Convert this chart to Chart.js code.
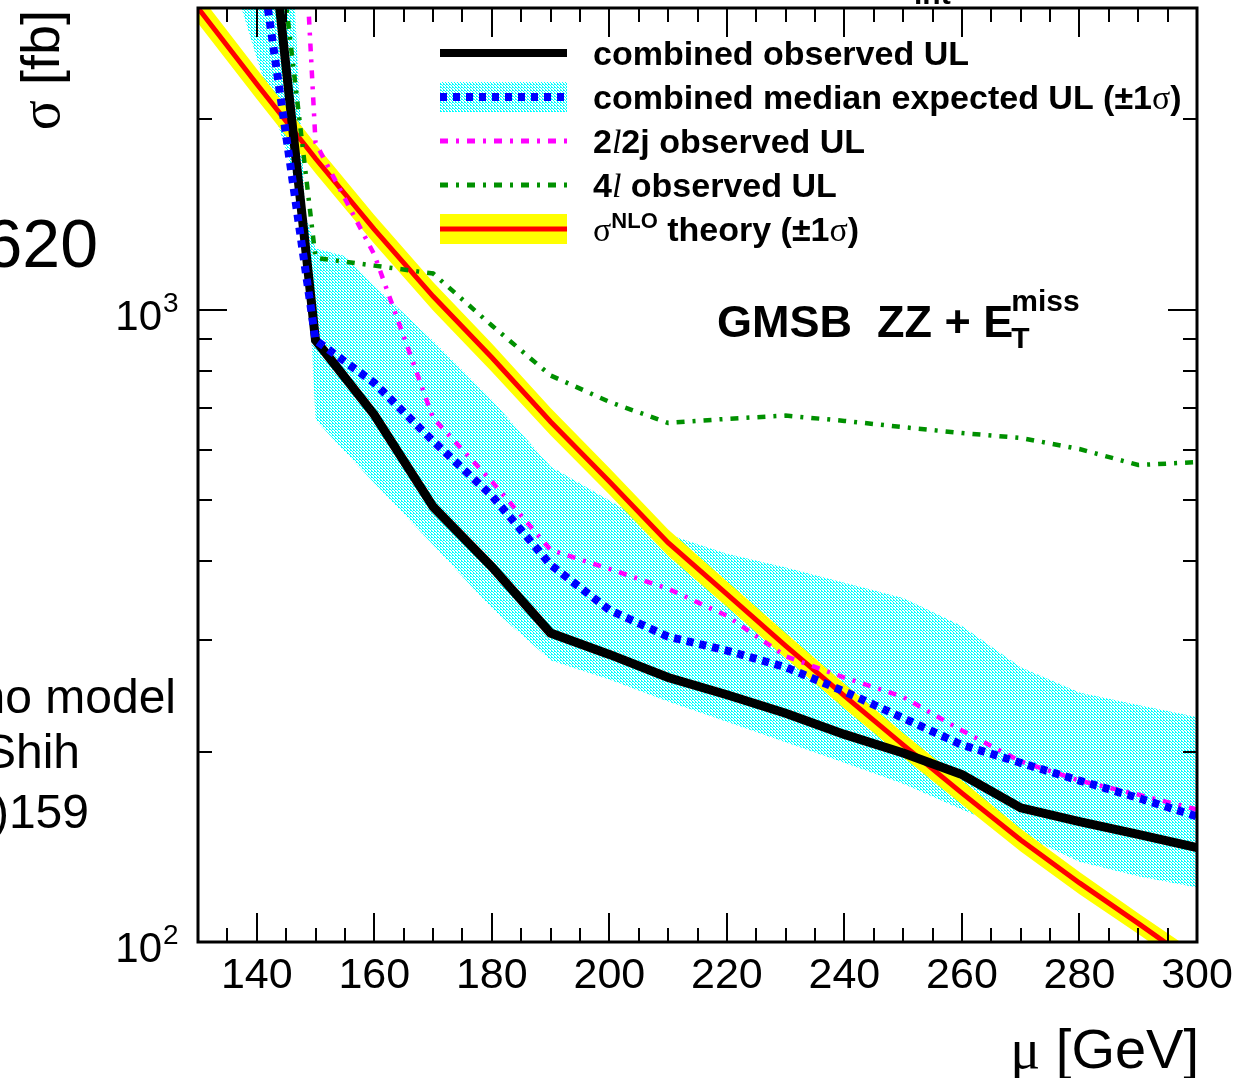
<!DOCTYPE html>
<html>
<head>
<meta charset="utf-8">
<title>GMSB ZZ + MET cross-section limits</title>
<script src="https://cdn.jsdelivr.net/npm/chart.js@4.4.1/dist/chart.umd.min.js"></script>
<style>
  html, body { margin: 0; padding: 0; background: #fff; }
  #wrap { width: 1237px; height: 1078px; position: relative; overflow: hidden; }
</style>
</head>
<body>
<div id="wrap"><canvas id="c" width="1237" height="1078"></canvas></div>
<script>
// values: sigma [fb] vs mu [GeV]
const massLimits = [140, 150, 160, 170, 180, 190, 200, 210, 220, 230, 240, 250, 260, 270, 280, 290, 300];
const observedUL = [6500, 895, 682, 488, 392, 308, 285, 262, 246, 230, 213, 199, 184, 163, 155, 148, 141];
const expectedUL = [3965, 895, 766, 620, 508, 395, 335, 304, 289, 272, 249, 226, 205, 192, 180, 169, 158];
const obs2l2j = [110000, 1837, 1222, 674, 535, 417, 389, 362, 328, 283, 262, 244, 216, 193, 180, 171, 162];
const obs4l = [7600, 1208, 1174, 1141, 944, 787, 715, 662, 672, 680, 667, 652, 638, 627, 602, 568, 574];

const massBand = [135, 140, 145, 150, 155, 160, 170, 180, 190, 200, 210, 220, 230, 240, 250, 260, 270, 280, 290, 300];
const expUp = [3556, 2500, 1786, 1250, 1216, 1091, 893, 720, 565, 499, 441, 411, 391, 370, 350, 316, 272, 248, 237, 227];
const expDown = [30000, 12000, 5700, 670, 596, 532, 425, 337, 279, 260, 240, 223, 207, 192, 178, 162, 148, 134, 127, 122];

const massTheory = [130, 140, 150, 160, 170, 180, 190, 200, 210, 220, 230, 240, 250, 260, 270, 280, 290, 300];
const sigmaNLO = [3000, 2275, 1734, 1340, 1050, 840, 665, 535, 428, 355, 294, 245, 205, 172, 145, 124, 107, 92];
const sigmaUp = [3171, 2402, 1829, 1412, 1106, 884, 699, 562, 449, 372, 308, 256, 214, 180, 151, 129, 111, 96];
const sigmaDown = [2838, 2154, 1644, 1271, 997, 798, 633, 510, 408, 339, 281, 234, 196, 165, 139, 119, 103, 88.5];

const xTickLabels = ['140', '160', '180', '200', '220', '240', '260', '280', '300'];
const yTickLabels = [['10', '2'], ['10', '3']];

const SANS = '"Liberation Sans", Arial, Helvetica, sans-serif';
const SERIF = '"Liberation Serif", "Times New Roman", serif';

const canvas = document.getElementById('c');
const ctx = canvas.getContext('2d');

// ROOT-like dotted fill for the expected band
function makeDots() {
    const t = document.createElement('canvas');
    t.width = 3; t.height = 3;
    const g = t.getContext('2d');
    g.fillStyle = '#ffffff';
    g.fillRect(0, 0, 3, 3);
    g.fillStyle = '#00ffff';
    [[0, 0], [1, 1], [2, 2], [2, 0]].forEach(([x, y]) => g.fillRect(x, y, 1, 1));
    return ctx.createPattern(t, 'repeat');
}
const dots = makeDots();

const pts = (xs, ys) => xs.map((x, i) => ({ x: x, y: ys[i] }));

function rich(c, x, y, parts) {
    parts.forEach(p => {
        c.font = p.f;
        c.fillText(p.t, x, y + (p.dy || 0));
        x += c.measureText(p.t).width;
    });
    return x;
}
function richWidth(c, parts) {
    let w = 0;
    parts.forEach(p => { c.font = p.f; w += c.measureText(p.t).width; });
    return w;
}

const dashDot = [8, 8, 3, 8];

const rootStyle = {
    id: 'rootStyle',
    afterDraw(chart) {
        const c = chart.ctx;
        const a = chart.chartArea;
        const sx = chart.scales.x, sy = chart.scales.y;
        c.save();
        c.fillStyle = '#000';
        c.strokeStyle = '#000';

        // ticks
        c.lineWidth = 2;
        c.beginPath();
        for (let m = 135; m < 300; m += 5) {
            const px = Math.round(sx.getPixelForValue(m));
            const len = (m % 20 === 0) ? 29 : 14;
            c.moveTo(px, a.bottom); c.lineTo(px, a.bottom - len);
            c.moveTo(px, a.top); c.lineTo(px, a.top + len);
        }
        [200, 300, 400, 500, 600, 700, 800, 900, 1000, 2000].forEach(v => {
            const py = Math.round(sy.getPixelForValue(v));
            const len = (v === 1000) ? 29 : 14;
            c.moveTo(a.left, py); c.lineTo(a.left + len, py);
            c.moveTo(a.right, py); c.lineTo(a.right - len, py);
        });
        c.stroke();

        // frame
        c.lineWidth = 3;
        c.strokeRect(a.left, a.top, a.right - a.left, a.bottom - a.top);

        // x tick labels
        c.font = '43px ' + SANS;
        c.textAlign = 'center';
        c.textBaseline = 'alphabetic';
        xTickLabels.forEach(l => {
            c.fillText(l, sx.getPixelForValue(Number(l)), 988);
        });

        // y tick labels with exponent
        c.textAlign = 'left';
        yTickLabels.forEach(([b, e]) => {
            const py = sy.getPixelForValue(Math.pow(Number(b), Number(e)));
            c.font = '42px ' + SANS;
            const wb = c.measureText(b).width;
            c.fillText(b, 162 - wb, py + 20);
            c.font = '28px ' + SANS;
            c.fillText(e, 163, py + 2);
        });

        // axis titles
        const xt = [
            { t: '\u03bc', f: '56px ' + SERIF },
            { t: ' [GeV]', f: '56px ' + SANS }
        ];
        rich(c, 1199 - richWidth(c, xt), 1068, xt);

        c.save();
        c.translate(59, 10);
        c.rotate(-Math.PI / 2);
        const yt = [
            { t: '\u03c3', f: '56px ' + SERIF },
            { t: ' [fb]', f: '54px ' + SANS }
        ];
        rich(c, -richWidth(c, yt), 0, yt);
        c.restore();

        // legend
        const lx0 = 440, lx1 = 567, tx = 593;
        c.lineCap = 'butt';
        c.lineWidth = 8; c.setLineDash([]);
        c.beginPath(); c.moveTo(lx0, 53); c.lineTo(lx1, 53); c.stroke();

        c.fillStyle = dots;
        c.fillRect(lx0, 82, lx1 - lx0, 30);
        c.strokeStyle = '#0000ff'; c.lineWidth = 8; c.setLineDash([7, 6]);
        c.beginPath(); c.moveTo(lx0, 97); c.lineTo(lx1, 97); c.stroke();

        c.strokeStyle = '#ff00ff'; c.lineWidth = 5; c.setLineDash(dashDot);
        c.beginPath(); c.moveTo(lx0, 141); c.lineTo(lx1, 141); c.stroke();

        c.strokeStyle = '#009000';
        c.beginPath(); c.moveTo(lx0, 185); c.lineTo(lx1, 185); c.stroke();

        c.setLineDash([]);
        c.fillStyle = '#ffff00';
        c.fillRect(lx0, 214, lx1 - lx0, 30);
        c.strokeStyle = '#ff0000'; c.lineWidth = 5;
        c.beginPath(); c.moveTo(lx0, 229); c.lineTo(lx1, 229); c.stroke();

        c.fillStyle = '#000';
        const B = 'bold 34px ' + SANS;
        const S = '34px ' + SERIF;
        const I = 'italic 34px ' + SERIF;
        rich(c, tx, 65, [{ t: 'combined observed UL', f: B }]);
        rich(c, tx, 109, [
            { t: 'combined median expected UL (', f: B },
            { t: '\u00b11', f: B },
            { t: '\u03c3', f: S },
            { t: ')', f: B }
        ]);
        rich(c, tx, 153, [
            { t: '2', f: B }, { t: 'l', f: I }, { t: '2j observed UL', f: B }
        ]);
        rich(c, tx, 197, [
            { t: '4', f: B }, { t: 'l', f: I }, { t: ' observed UL', f: B }
        ]);
        rich(c, tx, 241, [
            { t: '\u03c3', f: S },
            { t: 'NLO', f: 'bold 22px ' + SANS, dy: -13 },
            { t: ' theory (\u00b11', f: B },
            { t: '\u03c3', f: S },
            { t: ')', f: B }
        ]);

        // process label
        const x2 = rich(c, 717, 337, [{ t: 'GMSB  ZZ + E', f: 'bold 45px ' + SANS }]);
        c.font = 'bold 30px ' + SANS;
        c.fillText('T', x2 - 2, 348);
        c.fillText('miss', x2 - 2, 311);

        // cut-off texts of the surrounding figure
        c.textAlign = 'right';
        c.font = '68px ' + SANS;
        c.fillText('620', 98, 267);
        c.font = '48px ' + SANS;
        c.fillText('no model', 176, 713);
        c.fillText('Shih', 80, 768);
        c.fillText(')159', 89, 828);
        c.textAlign = 'left';
        c.font = 'bold 30px ' + SANS;
        c.fillText('int', 914, 4);

        c.restore();
    }
};

new Chart(ctx, {
    type: 'line',
    data: {
        datasets: [
            {
                label: 'combined median expected UL',
                data: pts(massLimits, expectedUL),
                borderColor: '#0000ff', borderWidth: 8, borderDash: [7, 6],
                fill: false, clip: 0, order: 1
            },
            {
                label: '2l2j observed UL',
                data: pts(massLimits, obs2l2j),
                borderColor: '#ff00ff', borderWidth: 4.5, borderDash: dashDot,
                fill: false, clip: 0, order: 2
            },
            {
                label: '4l observed UL',
                data: pts(massLimits, obs4l),
                borderColor: '#009000', borderWidth: 4.5, borderDash: dashDot,
                fill: false, clip: 0, order: 3
            },
            {
                label: 'combined observed UL',
                data: pts(massLimits, observedUL),
                borderColor: '#000000', borderWidth: 9,
                fill: false, clip: 0, order: 4
            },
            {
                label: 'sigma NLO',
                data: pts(massTheory, sigmaNLO),
                borderColor: '#ff0000', borderWidth: 5,
                fill: false, clip: 0, order: 5
            },
            {
                label: 'sigma NLO +1s',
                data: pts(massTheory, sigmaUp),
                borderWidth: 0, borderColor: 'rgba(0,0,0,0)',
                backgroundColor: '#ffff00', fill: '+1', clip: 0, order: 6
            },
            {
                label: 'sigma NLO -1s',
                data: pts(massTheory, sigmaDown),
                borderWidth: 0, borderColor: 'rgba(0,0,0,0)',
                fill: false, clip: 0, order: 6
            },
            {
                label: 'expected +1s',
                data: pts(massBand, expUp),
                borderWidth: 0, borderColor: 'rgba(0,0,0,0)',
                backgroundColor: dots, fill: '+1', clip: 0, order: 7
            },
            {
                label: 'expected -1s',
                data: pts(massBand, expDown),
                borderWidth: 0, borderColor: 'rgba(0,0,0,0)',
                fill: false, clip: 0, order: 7
            }
        ]
    },
    options: {
        responsive: false,
        devicePixelRatio: 1,
        animation: false,
        events: [],
        layout: { padding: { left: 198, top: 8, right: 40, bottom: 136 } },
        elements: { point: { radius: 0 }, line: { tension: 0 } },
        plugins: { legend: { display: false }, tooltip: { enabled: false } },
        scales: {
            x: { type: 'linear', min: 130, max: 300, display: false },
            y: { type: 'logarithmic', min: 100, max: 3000, display: false }
        }
    },
    plugins: [rootStyle]
});
</script>
</body>
</html>
